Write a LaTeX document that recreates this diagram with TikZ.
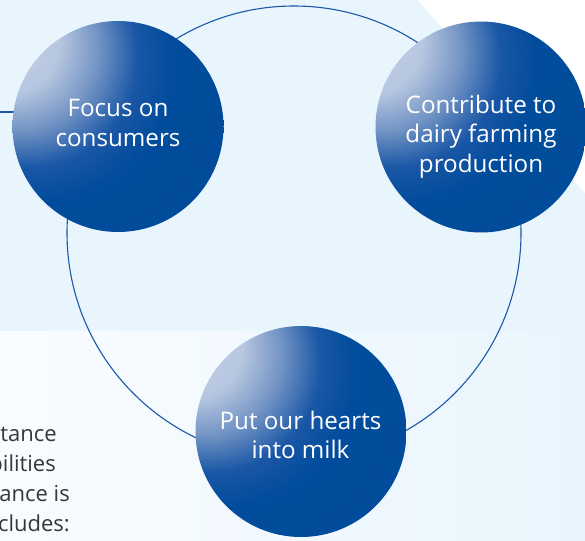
\documentclass[tikz,border=0pt]{standalone}
\usepackage{fontspec}
\setmainfont{Open Sans}
\definecolor{bgupper}{RGB}{232,245,253}
\definecolor{bglowL}{RGB}{249,252,255}
\definecolor{bglowR}{RGB}{233,245,253}
\definecolor{ringblue}{RGB}{28,88,168}
\definecolor{bodygray}{RGB}{55,55,55}
\pgfdeclareradialshading{sphereball}{\pgfpoint{-30bp}{23bp}}{rgb(0bp)=(0.78,0.83,0.9); rgb(12bp)=(0.72,0.78,0.88); rgb(19bp)=(0.45,0.58,0.77); rgb(26bp)=(0.1,0.34,0.65); rgb(32bp)=(0.01,0.3,0.615); rgb(55bp)=(0,0.29,0.6); rgb(72bp)=(0,0.265,0.56); rgb(90bp)=(0,0.22,0.48)}
\pgfdeclarelayer{bg}
\pgfdeclarelayer{mid}
\pgfsetlayers{bg,mid,main}
\begin{document}
\begin{tikzpicture}[x=1pt,y=-1pt,
  sphere/.style={circle, minimum size=211pt, inner sep=0pt, shade, shading=sphereball},
  ring/.style={circle, draw=ringblue, line width=1.1pt, minimum size=454pt, inner sep=0pt},
  link/.style={draw=ringblue, line width=1.1pt},
  balltext/.style={text=white, font=\fontsize{24.2}{29}\selectfont, anchor=base, inner sep=0pt},
  bodytext/.style={text=bodygray, font=\fontsize{22}{30}\selectfont, anchor=base east, inner sep=0pt}]
\useasboundingbox (0,0) rectangle (585,540);
\clip (0,0) rectangle (585,540);
\begin{pgfonlayer}{bg}
  \fill[bgupper] (0,0) rectangle (585,331);
  \fill[white] (418,0) -- (585,0) -- (585,193) -- cycle;
  \shade[left color=bglowL, right color=bglowR] (0,331) rectangle (585,540);
\end{pgfonlayer}
% spheres
\node[sphere] (s1) at (118,126.5) {};
\node[sphere] (s2) at (481,127) {};
\node[sphere] (s3) at (301,431.5) {};
% ring and link behind the spheres
\begin{pgfonlayer}{mid}
  \node[ring] (ring) at (294,233) {};
  \coordinate (lineL) at (0,112);
  \draw[link] (lineL) -- (lineL -| s1.center);
\end{pgfonlayer}
% sphere labels
\node[balltext] (t1a) at (118,116.7) {Focus on};
\node[balltext] (t1b) at (118,146.7) {consumers};
\node[balltext] (t2a) at (481,113.3) {Contribute to};
\node[balltext] (t2b) at (481,142.7) {dairy farming};
\node[balltext] (t2c) at (481,172.5) {production};
\node[balltext] (t3a) at (300.5,429.3) {Put our hearts};
\node[balltext] (t3b) at (300.5,458.3) {into milk};
% partial body text at the left edge
\node[bodytext] (b1) at (57,441) {tance};
\node[bodytext] (b2) at (56,471) {bilities};
\node[bodytext] (b3) at (70,501) {ance is};
\node[bodytext] (b4) at (70,531) {cludes:};
\end{tikzpicture}
\end{document}
